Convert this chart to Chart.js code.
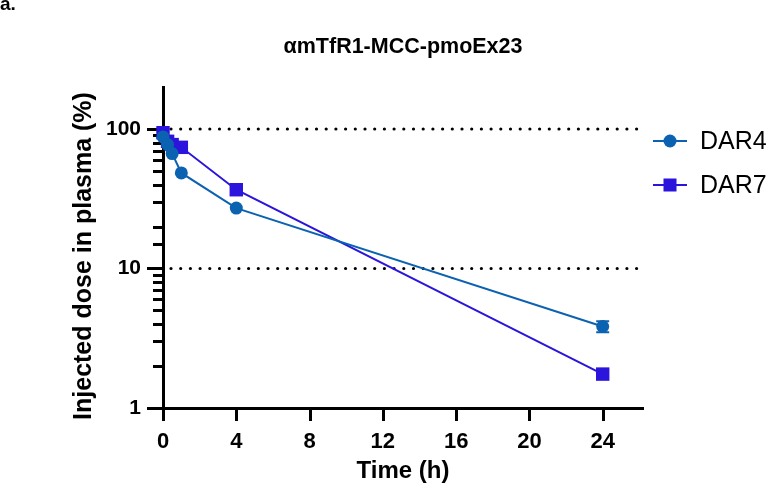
<!DOCTYPE html>
<html>
<head>
<meta charset="utf-8">
<title>αmTfR1-MCC-pmoEx23</title>
<script src="https://cdn.jsdelivr.net/npm/chart.js@4/dist/chart.umd.min.js"></script>
<style>
  html, body { margin: 0; padding: 0; background: #ffffff; }
  #wrap { width: 776px; height: 494px; }
</style>
</head>
<body>
<div id="wrap"><canvas id="myChart" width="776" height="494"></canvas></div>
<script>
// data
const timePoints = [0, 0.25, 0.5, 1, 4, 24];
const dar4Values = [87.8, 77.3, 66.6, 48.4, 27.1, 3.84];
const dar4Errors = [0, 0, 0, 0, 0, 0.35];
const dar7Values = [94, 81.6, 77.3, 73.9, 36.7, 1.75];
const dar7Errors = [0, 0, 0, 0, 0, 0];
const seriesNames = ["DAR4", "DAR7"];
const xTickValues = [0, 4, 8, 12, 16, 20, 24];
const yLabelValues = [1, 10, 100];
const dottedLineValues = [10, 100];

const FONT = "'Liberation Sans', Arial, Helvetica, sans-serif";
const dar4Color = "#0b62b0";
const dar7Color = "#2b14dc";

Chart.defaults.font.family = FONT;
Chart.defaults.color = "#000";

function toPoints(values) {
  return timePoints.map((t, i) => ({ x: t, y: values[i] }));
}

// axis tick marks, dotted reference lines and error bars
const extrasPlugin = {
  id: "extras",
  beforeDatasetsDraw(chart) {
    const ctx = chart.ctx;
    const xScale = chart.scales.x;
    const yScale = chart.scales.y;
    const area = chart.chartArea;
    ctx.save();
    ctx.strokeStyle = "#000";
    ctx.lineWidth = 3;
    // y ticks (long for labelled ones)
    yScale.ticks.forEach((t) => {
      const py = Math.round(yScale.getPixelForValue(t.value)) + 0.5;
      const len = yLabelValues.includes(t.value) ? 16 : 10;
      ctx.beginPath();
      ctx.moveTo(area.left - len, py);
      ctx.lineTo(area.left, py);
      ctx.stroke();
    });
    // x ticks
    xScale.ticks.forEach((t) => {
      const px = Math.round(xScale.getPixelForValue(t.value)) + 0.5;
      ctx.beginPath();
      ctx.moveTo(px, area.bottom);
      ctx.lineTo(px, area.bottom + 13);
      ctx.stroke();
    });
    // dotted lines
    ctx.setLineDash([0, 9.7]);
    ctx.lineCap = "round";
    ctx.lineWidth = 3.2;
    dottedLineValues.forEach((v) => {
      const py = yScale.getPixelForValue(v);
      ctx.beginPath();
      ctx.moveTo(area.left + 8, py);
      ctx.lineTo(area.right, py);
      ctx.stroke();
    });
    ctx.setLineDash([]);
    ctx.lineCap = "butt";
    // error bars
    const errorSets = [dar4Errors, dar7Errors];
    chart.data.datasets.forEach((ds, di) => {
      ctx.strokeStyle = ds.borderColor;
      ctx.lineWidth = 2;
      ds.data.forEach((p, i) => {
        const e = errorSets[di][i];
        if (!e) return;
        const px = xScale.getPixelForValue(p.x);
        const top = yScale.getPixelForValue(p.y + e);
        const bot = yScale.getPixelForValue(p.y - e);
        ctx.beginPath();
        ctx.moveTo(px, top);
        ctx.lineTo(px, bot);
        ctx.moveTo(px - 6.5, top);
        ctx.lineTo(px + 6.5, top);
        ctx.moveTo(px - 6.5, bot);
        ctx.lineTo(px + 6.5, bot);
        ctx.stroke();
      });
    });
    ctx.restore();
  },
  afterDraw(chart) {
    const ctx = chart.ctx;
    const area = chart.chartArea;
    ctx.save();
    ctx.fillStyle = "#000";
    // panel letter
    ctx.font = "bold 19px " + FONT;
    ctx.textAlign = "left";
    ctx.textBaseline = "alphabetic";
    ctx.fillText("a.", 0, 10);
    // title
    ctx.font = "bold 21.5px " + FONT;
    ctx.textAlign = "center";
    ctx.textBaseline = "middle";
    ctx.fillText("αmTfR1-MCC-pmoEx23", (area.left + area.right) / 2, 47);
    // y axis title
    ctx.save();
    ctx.translate(84, 256);
    ctx.rotate(-Math.PI / 2);
    ctx.font = "bold 25px " + FONT;
    ctx.fillText("Injected dose in plasma (%)", 0, 0);
    ctx.restore();
    // legend
    const legendY = [141, 185];
    chart.data.datasets.forEach((ds, i) => {
      const y = legendY[i];
      ctx.strokeStyle = ds.borderColor;
      ctx.lineWidth = 2;
      ctx.beginPath();
      ctx.moveTo(653, y);
      ctx.lineTo(687, y);
      ctx.stroke();
      ctx.fillStyle = ds.backgroundColor;
      if (ds.pointStyle === "rect") {
        ctx.fillRect(670 - 6.5, y - 6.5, 13, 13);
      } else {
        ctx.beginPath();
        ctx.arc(670, y, 6.5, 0, Math.PI * 2);
        ctx.fill();
      }
      ctx.fillStyle = "#000";
      ctx.font = "25px " + FONT;
      ctx.textAlign = "left";
      ctx.textBaseline = "middle";
      ctx.fillText(ds.label, 700, y + 1);
    });
    ctx.restore();
  },
};

const ctx = document.getElementById("myChart").getContext("2d");
const chart = new Chart(ctx, {
  type: "scatter",
  data: {
    datasets: [
      {
        label: seriesNames[0],
        data: toPoints(dar4Values),
        showLine: true,
        borderColor: dar4Color,
        backgroundColor: dar4Color,
        borderWidth: 2,
        pointStyle: "circle",
        pointRadius: 6.5,
        pointHoverRadius: 6.5,
        pointBorderWidth: 0,
        clip: false,
      },
      {
        label: seriesNames[1],
        data: toPoints(dar7Values),
        showLine: true,
        borderColor: dar7Color,
        backgroundColor: dar7Color,
        borderWidth: 2,
        pointStyle: "rect",
        pointRadius: 9.5,
        pointHoverRadius: 9.5,
        pointBorderWidth: 0,
        clip: false,
      },
    ],
  },
  options: {
    responsive: false,
    animation: false,
    events: [],
    layout: { padding: { top: 87, right: 133, bottom: 0, left: 0 } },
    plugins: {
      legend: { display: false },
      title: { display: false },
      tooltip: { enabled: false },
    },
    scales: {
      x: {
        type: "linear",
        min: 0,
        max: 26.2,
        afterBuildTicks: (scale) => {
          scale.ticks = xTickValues.map((v) => ({ value: v }));
        },
        afterFit: (scale) => {
          scale.height = 86;
        },
        grid: {
          display: true,
          drawOnChartArea: false,
          drawTicks: true,
          tickLength: 13,
          tickColor: "rgba(0,0,0,0)",
        },
        border: { display: true, color: "#000", width: 3 },
        ticks: {
          padding: 8,
          font: { size: 22, weight: "bold" },
          color: "#000",
          maxRotation: 0,
        },
        title: {
          display: true,
          text: "Time (h)",
          font: { size: 24, weight: "bold" },
          color: "#000",
          padding: { top: 0, bottom: 8 },
        },
      },
      y: {
        type: "logarithmic",
        min: 1,
        max: 200,
        afterBuildTicks: (scale) => {
          scale.ticks = scale.ticks.filter((t) => t.value <= 100);
        },
        afterFit: (scale) => {
          scale.width = 163;
        },
        grid: {
          display: true,
          drawOnChartArea: false,
          drawTicks: true,
          tickLength: 16,
          tickColor: "rgba(0,0,0,0)",
        },
        border: { display: true, color: "#000", width: 3 },
        ticks: {
          padding: 6,
          autoSkip: false,
          font: { size: 21, weight: "bold" },
          color: "#000",
          callback: (value) => (yLabelValues.includes(value) ? String(value) : ""),
        },
      },
    },
  },
  plugins: [extrasPlugin],
});
</script>
</body>
</html>
